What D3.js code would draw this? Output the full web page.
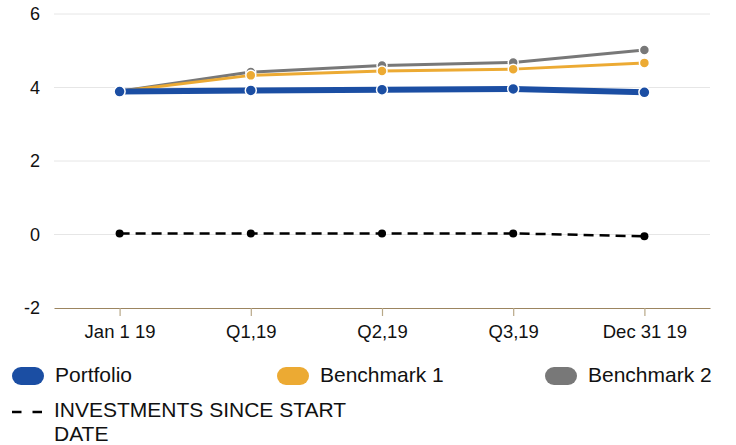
<!DOCTYPE html>
<html>
<head>
<meta charset="utf-8">
<script src="https://cdn.jsdelivr.net/npm/d3@7"></script>
<style>
  body { margin: 0; background: #fff; }
  svg { font-family: "Liberation Sans", Arial, sans-serif; }
</style>
</head>
<body>
<div id="chart"></div>
<script>
var categories = ['Jan 1 19', 'Q1,19', 'Q2,19', 'Q3,19', 'Dec 31 19'];
var portfolio = [3.89, 3.92, 3.94, 3.96, 3.87];
var benchmark1 = [3.9, 4.33, 4.45, 4.5, 4.67];
var benchmark2 = [3.9, 4.42, 4.6, 4.68, 5.02];
var investments = [0.03, 0.03, 0.03, 0.03, -0.05];
var yTicks = [-2, 0, 2, 4, 6];

var width = 736, height = 445;
var margin = {top: 14, right: 26, bottom: 137, left: 54};
var fontFam = '"Liberation Sans", Arial, sans-serif';

var svg = d3.select('#chart')
            .append('svg')
            .attr('width', width)
            .attr('height', height);

var xScale = d3.scalePoint().domain(categories).range([margin.left, width - margin.right]).padding(0.5);
var yScale = d3.scaleLinear().domain([-2, 6]).range([height - margin.bottom, margin.top]);

// grid
svg.append('g')
  .selectAll('line')
  .data(yTicks.filter(function(d) { return d > -2; }))
  .enter()
  .append('line')
  .attr('x1', margin.left)
  .attr('x2', width - margin.right)
  .attr('y1', function(d) { return yScale(d); })
  .attr('y2', function(d) { return yScale(d); })
  .attr('stroke', '#e6e6e6')
  .attr('stroke-width', 1);

// y labels
var yAxis = svg.append('g')
  .attr('transform', 'translate(' + (margin.left - 14) + ',0)')
  .call(d3.axisLeft(yScale).tickValues(yTicks).tickFormat(String).tickSize(0).tickPadding(0));
yAxis.select('.domain').remove();
yAxis.selectAll('text')
  .attr('font-size', 18)
  .attr('fill', '#111')
  .attr('font-family', fontFam);

// x axis
var xAxis = svg.append('g')
  .attr('transform', 'translate(0,' + yScale(-2) + ')')
  .call(d3.axisBottom(xScale).tickSize(8).tickPadding(9).tickSizeOuter(0));
xAxis.select('.domain').attr('stroke', '#9c8560').attr('stroke-width', 1.2);
xAxis.selectAll('.tick line').attr('stroke', '#b8a888').attr('stroke-width', 1.2);
xAxis.selectAll('text')
  .attr('font-size', 18.5)
  .attr('fill', '#111')
  .attr('font-family', fontFam);

var line = d3.line()
  .x(function(d, i) { return xScale(categories[i]); })
  .y(function(d) { return yScale(d); });

function drawSeries(values, color, lw, r, stroke, dash) {
  var g = svg.append('g');
  g.append('path')
    .attr('d', line(values))
    .attr('fill', 'none')
    .attr('stroke', color)
    .attr('stroke-width', lw)
    .attr('stroke-dasharray', dash || null);
  g.selectAll('circle')
    .data(values)
    .enter()
    .append('circle')
    .attr('cx', function(d, i) { return xScale(categories[i]); })
    .attr('cy', function(d) { return yScale(d); })
    .attr('r', r)
    .attr('fill', color)
    .attr('stroke', stroke)
    .attr('stroke-width', stroke === 'none' ? 0 : 1.5);
}

drawSeries(investments, '#000', 2.5, 4, 'none', '10,6');
drawSeries(benchmark2, '#787878', 3, 5, '#fff');
drawSeries(benchmark1, '#ecaa33', 3, 5, '#fff');
drawSeries(portfolio, '#1b4ea3', 6, 5.5, '#fff');

// legend
var legendItems = [
  {name: 'Portfolio', color: '#1b4ea3', x: 12},
  {name: 'Benchmark 1', color: '#ecaa33', x: 277},
  {name: 'Benchmark 2', color: '#787878', x: 545}
];
var lg = svg.append('g').attr('font-family', fontFam);
legendItems.forEach(function(d) {
  lg.append('rect')
    .attr('x', d.x)
    .attr('y', 367)
    .attr('width', 32)
    .attr('height', 18)
    .attr('rx', 9)
    .attr('fill', d.color);
  lg.append('text')
    .attr('x', d.x + 43)
    .attr('y', 382)
    .attr('font-size', 21)
    .attr('fill', '#111')
    .text(d.name);
});
lg.append('line')
  .attr('x1', 12).attr('x2', 42)
  .attr('y1', 412).attr('y2', 412)
  .attr('stroke', '#000')
  .attr('stroke-width', 2.5)
  .attr('stroke-dasharray', '9.5,11');
lg.append('text')
  .attr('x', 54).attr('y', 417)
  .attr('font-size', 21)
  .attr('fill', '#111')
  .text('INVESTMENTS SINCE START');
lg.append('text')
  .attr('x', 54).attr('y', 441)
  .attr('font-size', 21)
  .attr('fill', '#111')
  .text('DATE');
</script>
</body>
</html>
